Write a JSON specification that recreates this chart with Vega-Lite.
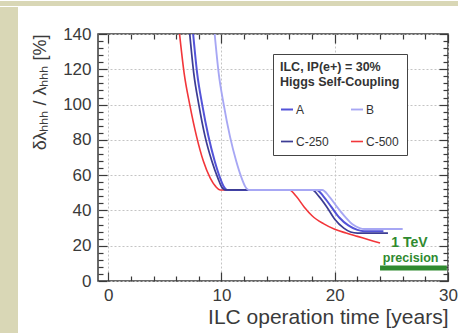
{
  "$schema": "https://vega.github.io/schema/vega-lite/v6.json",
  "background": "white",
  "padding": 0,
  "spacing": 0,
  "config": {
    "font": "Liberation Sans",
    "view": {"stroke": null}
  },
  "vconcat": [
    {
      "width": 458,
      "height": 5,
      "view": {"fill": "#d9d7b6", "stroke": null},
      "data": {"values": [{}]},
      "mark": {"type": "point", "opacity": 0},
      "encoding": {}
    },
    {
      "spacing": 12,
      "hconcat": [
        {
          "width": 18,
          "height": 328,
          "view": {"fill": "#d9d7b6", "stroke": null},
          "data": {"values": [{}]},
          "mark": {"type": "point", "opacity": 0},
          "encoding": {}
        },
        {
          "spacing": 0,
          "vconcat": [
            {
              "width": 1,
              "height": 10,
              "data": {"values": [{}]},
              "mark": {"type": "point", "opacity": 0},
              "encoding": {}
            },
            {
              "width": 350,
              "height": 247,
              "view": {"stroke": "#3a3a3a", "strokeWidth": 1.5, "fill": "white"},
              "layer": [
                {
                  "data": {
                    "values": [
                      {"series": "C-500", "x": 6.3, "y": 140},
                      {"series": "C-500", "x": 6.7, "y": 118},
                      {"series": "C-500", "x": 7.2, "y": 100},
                      {"series": "C-500", "x": 7.8, "y": 82},
                      {"series": "C-500", "x": 8.4, "y": 68},
                      {"series": "C-500", "x": 9.0, "y": 58.5},
                      {"series": "C-500", "x": 9.5, "y": 53.5},
                      {"series": "C-500", "x": 9.9, "y": 51.6},
                      {"series": "C-500", "x": 13.0, "y": 51.6},
                      {"series": "C-500", "x": 16.0, "y": 51.6},
                      {"series": "C-500", "x": 16.6, "y": 48},
                      {"series": "C-500", "x": 17.3, "y": 42},
                      {"series": "C-500", "x": 18.0, "y": 37},
                      {"series": "C-500", "x": 19.0, "y": 32.5},
                      {"series": "C-500", "x": 20.0, "y": 29.3},
                      {"series": "C-500", "x": 21.0, "y": 27.2},
                      {"series": "C-500", "x": 22.0, "y": 25.3},
                      {"series": "C-500", "x": 23.0, "y": 23.4},
                      {"series": "C-500", "x": 24.0, "y": 21.5},

                      {"series": "A", "x": 7.5, "y": 140},
                      {"series": "A", "x": 7.85, "y": 118},
                      {"series": "A", "x": 8.3, "y": 100},
                      {"series": "A", "x": 8.85, "y": 82},
                      {"series": "A", "x": 9.4, "y": 68},
                      {"series": "A", "x": 9.9, "y": 58},
                      {"series": "A", "x": 10.2, "y": 53.5},
                      {"series": "A", "x": 10.5, "y": 51.6},
                      {"series": "A", "x": 14.0, "y": 51.6},
                      {"series": "A", "x": 18.4, "y": 51.6},
                      {"series": "A", "x": 19.0, "y": 48},
                      {"series": "A", "x": 19.7, "y": 42},
                      {"series": "A", "x": 20.4, "y": 36},
                      {"series": "A", "x": 21.2, "y": 31.5},
                      {"series": "A", "x": 22.0, "y": 29},
                      {"series": "A", "x": 22.6, "y": 28.2},
                      {"series": "A", "x": 24.3, "y": 28.2},

                      {"series": "C-250", "x": 7.2, "y": 140},
                      {"series": "C-250", "x": 7.55, "y": 118},
                      {"series": "C-250", "x": 8.0, "y": 100},
                      {"series": "C-250", "x": 8.55, "y": 82},
                      {"series": "C-250", "x": 9.15, "y": 68},
                      {"series": "C-250", "x": 9.7, "y": 58},
                      {"series": "C-250", "x": 10.0, "y": 53.5},
                      {"series": "C-250", "x": 10.3, "y": 51.6},
                      {"series": "C-250", "x": 14.0, "y": 51.6},
                      {"series": "C-250", "x": 18.0, "y": 51.6},
                      {"series": "C-250", "x": 18.6, "y": 48},
                      {"series": "C-250", "x": 19.3, "y": 42},
                      {"series": "C-250", "x": 20.0, "y": 35},
                      {"series": "C-250", "x": 20.8, "y": 30},
                      {"series": "C-250", "x": 21.4, "y": 27.8},
                      {"series": "C-250", "x": 22.0, "y": 27.2},
                      {"series": "C-250", "x": 24.7, "y": 27.2},

                      {"series": "B", "x": 9.4, "y": 140},
                      {"series": "B", "x": 9.75, "y": 118},
                      {"series": "B", "x": 10.2, "y": 100},
                      {"series": "B", "x": 10.75, "y": 82},
                      {"series": "B", "x": 11.3, "y": 68},
                      {"series": "B", "x": 11.8, "y": 58},
                      {"series": "B", "x": 12.1, "y": 53.5},
                      {"series": "B", "x": 12.4, "y": 51.6},
                      {"series": "B", "x": 15.0, "y": 51.6},
                      {"series": "B", "x": 18.9, "y": 51.6},
                      {"series": "B", "x": 19.5, "y": 48},
                      {"series": "B", "x": 20.2, "y": 42},
                      {"series": "B", "x": 20.9, "y": 36.5},
                      {"series": "B", "x": 21.6, "y": 32},
                      {"series": "B", "x": 22.2, "y": 30},
                      {"series": "B", "x": 22.6, "y": 29.5},
                      {"series": "B", "x": 26.0, "y": 29.5}
                    ]
                  },
                  "mark": {"type": "line", "interpolate": "monotone", "clip": true},
                  "encoding": {
                    "x": {
                      "field": "x",
                      "type": "quantitative",
                      "scale": {"domain": [-0.9, 30], "nice": false, "zero": false},
                      "axis": {
                        "orient": "bottom",
                        "values": [0, 2, 4, 6, 8, 10, 12, 14, 16, 18, 20, 22, 24, 26, 28, 30],
                        "labelExpr": "datum.value % 10 === 0 ? datum.label : ''",
                        "tickSize": {"condition": {"test": "datum.value % 10 === 0", "value": -9}, "value": -5},
                        "tickColor": "#3a3a3a",
                        "tickWidth": 1.2,
                        "domain": false,
                        "grid": true,
                        "gridColor": "#c4c4c4",
                        "gridDash": [2, 2],
                        "gridOpacity": {"condition": {"test": "datum.value % 10 === 0", "value": 1}, "value": 0},
                        "labelFontSize": 17,
                        "labelColor": "#3a3a3a",
                        "labelPadding": 15,
                        "labelFlush": false,
                        "title": "ILC operation time [years]",
                        "titleAnchor": "end",
                        "titleFontSize": 21,
                        "titleFontWeight": "normal",
                        "titleColor": "#3a3a3a",
                        "titlePadding": 3
                      }
                    },
                    "y": {
                      "field": "y",
                      "type": "quantitative",
                      "scale": {"domain": [0, 140], "nice": false},
                      "axis": {
                        "orient": "left",
                        "values": [0, 4, 8, 12, 16, 20, 24, 28, 32, 36, 40, 44, 48, 52, 56, 60, 64, 68, 72, 76, 80, 84, 88, 92, 96, 100, 104, 108, 112, 116, 120, 124, 128, 132, 136, 140],
                        "labelExpr": "datum.value % 20 === 0 ? datum.label : ''",
                        "tickSize": {"condition": {"test": "datum.value % 20 === 0", "value": -9}, "value": -5},
                        "tickColor": "#3a3a3a",
                        "tickWidth": 1.2,
                        "domain": false,
                        "grid": true,
                        "gridColor": "#c4c4c4",
                        "gridDash": [2, 2],
                        "gridOpacity": {"condition": {"test": "datum.value % 20 === 0", "value": 1}, "value": 0},
                        "labelFontSize": 17,
                        "labelColor": "#3a3a3a",
                        "labelPadding": 16,
                        "labelFlush": false,
                        "minExtent": 38,
                        "title": "δλₕₕₕ / λₕₕₕ [%]",
                        "titleAnchor": "end",
                        "titleFontSize": 18,
                        "titleFontWeight": "normal",
                        "titleColor": "#3a3a3a",
                        "titlePadding": 11
                      }
                    },
                    "color": {
                      "field": "series",
                      "type": "nominal",
                      "scale": {
                        "domain": ["A", "B", "C-250", "C-500"],
                        "range": ["#5353d8", "#a7a7f4", "#3c3c94", "#f2363a"]
                      },
                      "legend": {
                        "orient": "none",
                        "legendX": 273,
                        "legendY": 53,
                        "direction": "horizontal",
                        "columns": 2,
                        "title": ["ILC, IP(e+) = 30%", "Higgs Self-Coupling"],
                        "titleFontSize": 12.5,
                        "titleFontWeight": "bold",
                        "titleColor": "#333",
                        "titlePadding": 14,
                        "titleLineHeight": 15,
                        "labelFontSize": 12,
                        "labelColor": "#333",
                        "symbolType": "stroke",
                        "symbolSize": 144,
                        "symbolStrokeWidth": 2,
                        "columnPadding": 18,
                        "rowPadding": 19,
                        "labelOffset": 2,
                        "padding": 7,
                        "strokeColor": "#444",
                        "fillColor": "white",
                        "cornerRadius": 0
                      }
                    },
                    "strokeWidth": {
                      "field": "series",
                      "type": "nominal",
                      "scale": {"domain": ["A", "B", "C-250", "C-500"], "range": [2, 1.6, 2.4, 2.6]},
                      "legend": null
                    }
                  }
                },
                {
                  "data": {"values": [{"label": "1 TeV precision", "x0": 24.0, "x1": 29.9, "y": 7.4}]},
                  "mark": {"type": "rule", "color": "#2f8a2f", "strokeWidth": 5},
                  "encoding": {
                    "x": {
                      "field": "x0",
                      "type": "quantitative",
                      "axis": {
                        "orient": "top",
                        "values": [0, 2, 4, 6, 8, 10, 12, 14, 16, 18, 20, 22, 24, 26, 28, 30],
                        "labels": false,
                        "title": null,
                        "domain": false,
                        "grid": false,
                        "tickSize": {"condition": {"test": "datum.value % 10 === 0", "value": -9}, "value": -5},
                        "tickColor": "#3a3a3a",
                        "tickWidth": 1.2,
                        "minExtent": 16
                      }
                    },
                    "x2": {"field": "x1"},
                    "y": {
                      "field": "y",
                      "type": "quantitative",
                      "axis": {
                        "orient": "right",
                        "values": [0, 4, 8, 12, 16, 20, 24, 28, 32, 36, 40, 44, 48, 52, 56, 60, 64, 68, 72, 76, 80, 84, 88, 92, 96, 100, 104, 108, 112, 116, 120, 124, 128, 132, 136, 140],
                        "labels": false,
                        "title": null,
                        "domain": false,
                        "grid": false,
                        "tickSize": {"condition": {"test": "datum.value % 20 === 0", "value": -9}, "value": -5},
                        "tickColor": "#3a3a3a",
                        "tickWidth": 1.2
                      }
                    }
                  }
                },
                {
                  "data": {
                    "values": [
                      {"text": "1 TeV", "x": 26.6, "y": 21.3, "size": "big"},
                      {"text": "precision", "x": 26.7, "y": 13.0, "size": "small"}
                    ]
                  },
                  "mark": {"type": "text", "color": "#2f8a2f", "fontWeight": "bold", "align": "center", "baseline": "middle"},
                  "encoding": {
                    "x": {"field": "x", "type": "quantitative", "axis": null},
                    "y": {"field": "y", "type": "quantitative", "axis": null},
                    "size": {
                      "field": "size",
                      "type": "nominal",
                      "scale": {"domain": ["big", "small"], "range": [14, 12.5]},
                      "legend": null
                    },
                    "text": {"field": "text"}
                  }
                }
              ]
            }
          ]
        }
      ]
    }
  ]
}
